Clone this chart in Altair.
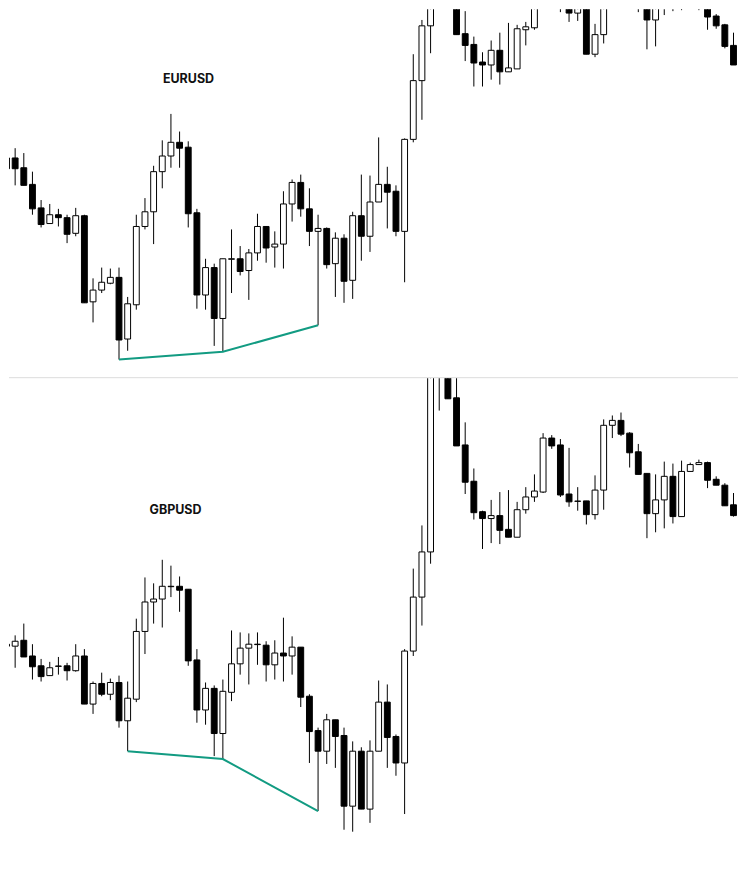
import altair as alt
import pandas as pd

# ---------------- data (levels, arbitrary price units) ----------------
idx = list(range(85))

# EURUSD  (level units; panel range 0..377)
eur_open = [225, 225, 215, 198, 174, 158, 167, 164, 148, 166, 78, 90, 97, 103, 40, 75, 155, 170, 211, 227,
            241, 236, 169, 85, 113, 61, 121.5, 122, 110, 128, 155, 134, 137, 178, 200, 173, 150, 153, 117, 143,
            100, 166, 145, 180, 198, 191, 150, 244, 304, 360, 395, 425, 385, 352, 341, 323, 320, 335, 313, 316,
            356, 358, 385, 415, 408, 385, 373, 384, 331, 351, 400, 404, 396, 388, 380, 366, 388, 396, 384, 393,
            397, 395, 370, 361, 340]
eur_high = [228, 235, 230, 211, 182, 178, 173, 167, 174, 167, 102, 113, 112, 113, 83, 167, 184, 217, 243, 270,
            252, 242, 173, 122, 117, 122, 152, 135, 132, 168, 155, 150, 191, 203, 208, 194, 167, 154, 149, 147,
            170, 208, 207, 246, 216, 197, 245, 331, 366, 400, 440, 445, 392, 375, 349, 333, 345, 353, 363, 361,
            364, 395, 420, 418, 412, 392, 386, 390, 362, 405, 408, 410, 398, 392, 385, 392, 402, 400, 396, 400,
            399, 398, 372, 362, 353]
eur_low = [210, 197, 197, 167, 154, 158, 155, 138, 145, 77, 57, 87, 96, 19, 28, 70, 152, 137, 194, 215,
           215, 154, 71, 70, 33, 27, 87, 105, 80, 120, 118, 113, 112, 160, 165, 135, 54, 112, 83, 77,
           81, 120, 129, 180, 153, 145, 98, 241, 264, 332, 385, 390, 351, 324, 298, 298, 305, 300, 313, 316,
           340, 356, 380, 400, 374, 364, 365, 331, 328, 342, 392, 390, 382, 374, 336, 339, 371, 375, 376, 388,
           376, 356, 357, 337, 320]
eur_close = [214, 214, 197, 173, 157, 167, 164, 147, 166, 77, 90, 98, 103, 39, 76, 155, 170, 211, 227, 241,
             235, 168, 85, 113, 61, 122, 122, 109, 128, 155, 133, 137, 178, 200, 173, 150, 153, 116, 143, 99,
             166, 145, 180, 198, 190, 150, 244, 304, 360, 395, 425, 400, 351, 340, 322, 320, 335, 313, 317, 357,
             359, 385, 415, 408, 380, 373, 381, 331, 351, 400, 404, 396, 388, 380, 366, 388, 396, 384, 393, 397,
             398, 369, 360, 339, 320]

# GBPUSD  (level units; panel range 0..510)
gbp_open = [239, 237, 243, 227, 217, 207, 216.4, 217, 212, 227, 178, 199, 188, 200, 161, 183, 252, 282, 285, 297.6,
            298, 295, 223, 172, 194, 148, 190, 219, 235, 238.6, 238, 218, 230, 227, 236, 186, 151, 130, 162, 146,
            74, 130, 71, 130, 180, 145, 118, 232, 287, 333, 530, 560, 490, 442, 405, 374, 367, 370, 356, 348,
            376, 389, 394, 449, 442, 392, 384.5, 385, 371, 396, 462, 467, 454, 435, 413, 372, 386, 410, 369, 415,
            422, 424, 407, 401, 381]
gbp_high = [245, 248, 260, 239, 224, 221, 226, 220, 239, 234, 201, 210, 204, 207, 201, 265, 307, 301, 325, 319,
            308, 295, 234, 200, 197, 203, 253, 251, 250, 251, 242, 243, 266, 247, 236, 188, 154, 168, 162, 154,
            140, 134, 141, 202, 198, 147, 234, 316, 360, 540, 560, 570, 515, 465, 418, 375, 386, 394, 396, 384,
            399, 412, 454, 452, 448, 439, 399, 385, 411, 468, 472, 475, 455, 443, 413, 412, 425, 423, 426, 424,
            427, 425, 410, 403, 393]
gbp_low = [232, 215, 226, 203, 201, 207, 208, 202, 211, 178, 168, 186, 182, 154, 130, 180, 229, 260, 256, 287,
           272, 217, 159, 157, 125, 122, 181, 208, 198, 218, 201, 203, 201, 208, 175, 118, 69, 117, 113, 50,
           48, 71, 57, 130, 113, 105, 66, 227, 258, 321, 477, 489, 441, 392, 366, 336, 342, 341, 348, 348,
           372, 384, 393, 438, 389, 379, 375, 361, 366, 376, 449, 451, 419, 412, 347, 353, 357, 362, 369, 415,
           422, 398, 401, 380, 369]
gbp_close = [237, 242, 226, 216, 206, 215, 216.8, 212, 227, 178, 199, 188, 200, 161, 184, 252, 282, 285, 298, 298,
             294, 222, 172, 194, 148, 191, 219, 235, 239, 239, 218, 230, 227, 236, 185, 150, 130, 162, 145, 74,
             130, 71, 130, 180, 144, 118, 232, 287, 333, 530, 550, 489, 441, 404, 373, 367, 370, 355, 348, 376,
             389, 395, 449, 441, 391, 384, 384.8, 371, 396, 462, 467, 453, 434, 412, 372, 386, 410, 369, 415, 422,
             424, 406, 401, 380, 370]

# trend lines connecting swing lows (candle index, level)
eur_line_x = [13, 25, 36]
eur_line_y = [19, 27, 54]
gbp_line_x = [14, 25, 36]
gbp_line_y = [130, 122, 69]

# ---------------- layout ----------------
W = 731
X_DOMAIN = [0.29, 84.52]
HALF = 0.338
TEAL = "#129b82"


def panel(name, o, h, l, c, ymax, height, lx, ly, label_x, label_y, separator):
    df = pd.DataFrame({"i": idx, "o": o, "h": h, "l": l, "c": c})
    df["top"] = df[["o", "c"]].max(axis=1)
    df["bot"] = df[["o", "c"]].min(axis=1)
    df["dir"] = ["up" if cc >= oo else "down" for oo, cc in zip(o, c)]
    df["xl"] = df["i"] - HALF
    df["xr"] = df["i"] + HALF

    xs = alt.Scale(domain=X_DOMAIN, nice=False, zero=False)
    ys = alt.Scale(domain=[0, ymax], nice=False, zero=False)

    base = alt.Chart(df)
    wicks = base.mark_rule(color="black", strokeWidth=1, clip=True).encode(
        x=alt.X("i:Q", scale=xs, axis=None),
        y=alt.Y("h:Q", scale=ys, axis=None),
        y2="l:Q",
    )
    bodies = base.mark_rect(stroke="black", strokeWidth=1, clip=True).encode(
        x=alt.X("xl:Q", scale=xs, axis=None),
        x2="xr:Q",
        y=alt.Y("top:Q", scale=ys, axis=None),
        y2="bot:Q",
        fill=alt.Fill("dir:N", scale=alt.Scale(domain=["up", "down"], range=["white", "black"]), legend=None),
    )
    line_df = pd.DataFrame({"i": lx, "v": ly})
    line = alt.Chart(line_df).mark_line(color=TEAL, strokeWidth=2).encode(
        x=alt.X("i:Q", scale=xs, axis=None),
        y=alt.Y("v:Q", scale=ys, axis=None),
    )
    text = alt.Chart(pd.DataFrame({"label": [name]})).mark_text(
        font="Inter", fontSize=12.5, fontWeight="bold", color="#111111", align="center", baseline="middle"
    ).encode(x=alt.value(label_x), y=alt.value(label_y), text="label:N")

    layers = [wicks, bodies, line, text]
    if separator:
        sep = alt.Chart(pd.DataFrame({"label": [name]})).mark_rule(color="#dcdcdc", strokeWidth=1).encode(
            x=alt.value(0), x2=alt.value(W), y=alt.value(height - 0.5)
        )
        layers.append(sep)
    return alt.layer(*layers).properties(width=W, height=height)


top = panel("EURUSD", eur_open, eur_high, eur_low, eur_close, 377, 370,
            eur_line_x, eur_line_y, 180, 70.5, True)
bottom = panel("GBPUSD", gbp_open, gbp_high, gbp_low, gbp_close, 510, 502,
               gbp_line_x, gbp_line_y, 167, 132.5, False)

chart = alt.vconcat(top, bottom, spacing=0).properties(padding=0).configure_view(stroke=None)

chart.save("out.html", embed_options={"renderer": "svg", "actions": False})
